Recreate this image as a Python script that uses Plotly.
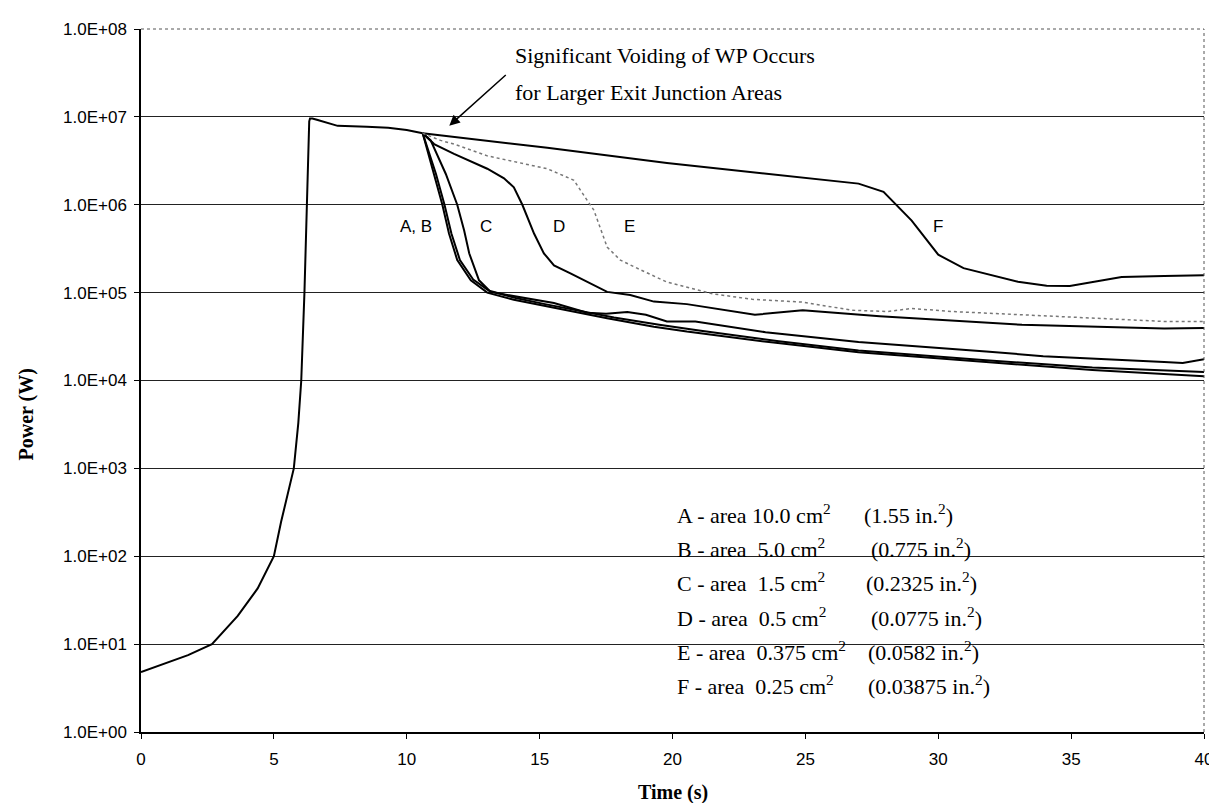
import plotly.graph_objects as go

# ---------------- data ----------------
t_common = [0, 0.9, 1.77, 2.67, 3.64, 4.39, 5.0, 5.27, 5.58, 5.75, 5.92, 6.03, 6.15, 6.24, 6.30, 6.33, 6.36,
            6.45, 6.65, 7.02, 7.4, 8.5, 9.3, 10.0, 10.6]
p_common = [4.8, 6.0, 7.5, 10, 21, 43, 100, 245, 590, 1000, 3300, 1.0e4, 1.0e5, 1.0e6, 6.3e6, 8.9e6, 9.6e6,
            9.6e6, 9.2e6, 8.6e6, 7.9e6, 7.7e6, 7.5e6, 7.1e6, 6.5e6]

t_A = [10.6, 11.03, 11.34, 11.59, 11.9, 12.41, 13.03, 14.03, 15.04, 16.29, 17.54, 19.3, 20.54, 23.8, 27.0, 31.8, 35.8, 40]
p_A = [6.5e6, 2.24e6, 1.0e6, 4.7e5, 2.35e5, 1.38e5, 1.0e5, 8.3e4, 7.2e4, 6.1e4, 5.1e4, 4.1e4, 3.6e4, 2.7e4, 2.1e4, 1.62e4, 1.32e4, 1.12e4]

t_B = [10.6, 11.1, 11.42, 11.68, 12.0, 12.5, 13.1, 14.1, 15.2, 16.5, 17.8, 19.5, 21.0, 24.0, 27.0, 31.8, 35.8, 40]
p_B = [6.5e6, 2.24e6, 1.0e6, 4.7e5, 2.35e5, 1.41e5, 1.05e5, 8.7e4, 7.4e4, 6.2e4, 5.2e4, 4.3e4, 3.7e4, 2.8e4, 2.2e4, 1.7e4, 1.41e4, 1.25e4]

t_C = [10.6, 10.9, 11.47, 11.9, 12.16, 12.35, 12.72, 13.16, 13.78, 14.79, 15.54, 16.79, 17.5, 18.3, 19.0, 19.79, 20.86,
       23.5, 27.0, 31.8, 33.95, 38.5, 39.2, 40]
p_C = [6.5e6, 5.4e6, 2.24e6, 1.0e6, 5.1e5, 2.8e5, 1.38e5, 1.02e5, 9.4e4, 8.3e4, 7.6e4, 5.9e4, 5.75e4, 6.0e4, 5.6e4, 4.7e4, 4.68e4,
       3.55e4, 2.75e4, 2.14e4, 1.89e4, 1.62e4, 1.58e4, 1.74e4]

t_D = [10.6, 11.03, 11.78, 13.03, 13.66, 14.03, 14.35, 14.79, 15.16, 15.54, 16.16, 16.79, 17.54, 18.41, 19.3, 20.54,
       23.1, 24.9, 27.8, 33.15, 38.5, 40]
p_D = [6.5e6, 4.9e6, 3.8e6, 2.57e6, 2.0e6, 1.58e6, 1.0e6, 4.7e5, 2.8e5, 2.04e5, 1.66e5, 1.33e5, 1.02e5, 9.4e4, 7.9e4, 7.4e4,
       5.6e4, 6.3e4, 5.4e4, 4.3e4, 3.9e4, 3.95e4]

t_E = [10.6, 11.27, 11.78, 13.03, 15.29, 16.29, 16.79, 17.04, 17.54, 18.04, 18.79, 19.79, 21.5, 23.0, 24.9, 26.75,
       28.1, 29.0, 30.5, 33.15, 35.8, 38.5, 40]
p_E = [6.5e6, 5.4e6, 4.9e6, 3.6e6, 2.57e6, 1.9e6, 1.12e6, 8.7e5, 3.3e5, 2.34e5, 1.82e5, 1.32e5, 9.7e4, 8.4e4, 7.8e4, 6.3e4,
       6.1e4, 6.6e4, 6.1e4, 5.6e4, 5.1e4, 4.7e4, 4.7e4]

t_F = [10.6, 15.29, 19.79, 25.0, 27.0, 27.94, 29.0, 30.0, 30.95, 33.0, 34.08, 34.95, 36.9, 38.5, 40]
p_F = [6.5e6, 4.45e6, 2.98e6, 2.02e6, 1.74e6, 1.40e6, 6.6e5, 2.7e5, 1.9e5, 1.33e5, 1.2e5, 1.19e5, 1.51e5, 1.55e5, 1.58e5]

y_tickvals = [1, 10, 100, 1e3, 1e4, 1e5, 1e6, 1e7, 1e8]
y_ticktext = ["1.0E+00", "1.0E+01", "1.0E+02", "1.0E+03", "1.0E+04", "1.0E+05", "1.0E+06", "1.0E+07", "1.0E+08"]
x_tickvals = [0, 5, 10, 15, 20, 25, 30, 35, 40]

curve_labels = ["A, B", "C", "D", "E", "F"]
curve_label_t = [10.33, 13.0, 15.74, 18.37, 30.0]

legend_left = ["A - area 10.0 cm<sup>2</sup>",
               "B - area\u00a0\u00a05.0 cm<sup>2</sup>",
               "C - area\u00a0\u00a01.5 cm<sup>2</sup>",
               "D - area\u00a0\u00a00.5 cm<sup>2</sup>",
               "E - area\u00a0\u00a00.375 cm<sup>2</sup>",
               "F - area\u00a0\u00a00.25 cm<sup>2</sup>"]
legend_right = ["(1.55 in.<sup>2</sup>)", "(0.775 in.<sup>2</sup>)", "(0.2325 in.<sup>2</sup>)",
                "(0.0775 in.<sup>2</sup>)", "(0.0582 in.<sup>2</sup>)", "(0.03875 in.<sup>2</sup>)"]

# ---------------- figure ----------------
W, H = 1217, 803
L, R, T, B = 133, 20, 18, 79
pw, ph = W - L - R, H - T - B

def px_x(px):
    return (px - L) / pw

def px_y(py):
    return 1 - (py - T) / ph

fig = go.Figure()
black = dict(color="black", width=2)
fig.add_trace(go.Scatter(x=t_common, y=p_common, mode="lines", line=black, showlegend=False))
for tt, pp in [(t_A, p_A), (t_B, p_B), (t_C, p_C), (t_D, p_D), (t_F, p_F)]:
    fig.add_trace(go.Scatter(x=tt, y=pp, mode="lines", line=black, showlegend=False))
fig.add_trace(go.Scatter(x=t_E, y=p_E, mode="lines", line=dict(color="#777777", width=1.5, dash="dot"),
                         showlegend=False))

tick_font = dict(family="Liberation Sans, Arial", size=17, color="black")
fig.update_layout(
    width=W, height=H,
    margin=dict(l=L, r=R, t=T, b=B),
    paper_bgcolor="white", plot_bgcolor="white",
    font=dict(family="Liberation Sans, Arial", size=16, color="black"),
    showlegend=False,
)
fig.update_xaxes(range=[0, 40], tickvals=x_tickvals, showgrid=False, zeroline=False,
                 showline=True, linecolor="black", linewidth=1.5,
                 ticks="outside", ticklen=5, tickcolor="black", tickwidth=1,
                 ticklabelstandoff=6, tickfont=tick_font)
fig.update_yaxes(type="log", range=[0, 8], tickvals=y_tickvals, ticktext=y_ticktext,
                 showgrid=True, gridcolor="#222222", gridwidth=1, zeroline=False,
                 showline=True, linecolor="black", linewidth=1.5,
                 ticks="outside", ticklen=5, tickcolor="black", tickwidth=1,
                 ticklabelstandoff=4, tickfont=tick_font)

# dotted top / right border
fig.add_shape(type="line", xref="paper", yref="paper", x0=0, x1=1, y0=1, y1=1,
              line=dict(color="white", width=2), layer="above")
fig.add_shape(type="line", xref="paper", yref="paper", x0=0, x1=1, y0=1, y1=1,
              line=dict(color="#555555", width=1, dash="dot"), layer="above")
fig.add_shape(type="line", xref="paper", yref="paper", x0=1, x1=1, y0=0, y1=1,
              line=dict(color="#555555", width=1, dash="dot"), layer="above")

# axis titles
title_font = dict(family="Liberation Serif, Times New Roman", size=20, color="black")
fig.add_annotation(text="<b>Power (W)</b>", xref="paper", yref="paper", x=px_x(18), y=px_y(405),
                   textangle=-90, showarrow=False, xanchor="center", yanchor="middle", font=title_font)
fig.add_annotation(text="<b>Time (s)</b>", xref="paper", yref="paper", x=px_x(666), y=px_y(785),
                   showarrow=False, xanchor="center", yanchor="middle", font=title_font)

# voiding annotation + arrow
serif = dict(family="Liberation Serif, Times New Roman", size=22, color="black")
fig.add_annotation(text="Significant Voiding of WP Occurs", xref="paper", yref="paper",
                   x=px_x(505), y=px_y(45), xanchor="left", yanchor="middle", showarrow=False, font=serif)
fig.add_annotation(text="for Larger Exit Junction Areas", xref="paper", yref="paper",
                   x=px_x(505), y=px_y(82), xanchor="left", yanchor="middle", showarrow=False, font=serif)
fig.add_annotation(x=11.6, y=6.90, xref="x", yref="y", text="", showarrow=True,
                   ax=58, ay=-52, arrowhead=2, arrowsize=1.4, arrowwidth=1.5, arrowcolor="black")

# curve labels
for lab, tl in zip(curve_labels, curve_label_t):
    fig.add_annotation(text=lab, x=tl, xref="x", yref="paper", y=px_y(216), showarrow=False,
                       xanchor="center", yanchor="middle",
                       font=dict(family="Liberation Sans, Arial", size=17, color="black"))

# legend text block
rows_y = [505, 539.4, 573.8, 608.2, 642.6, 677]
right_x = [855, 862, 857, 862, 859, 859]
for i in range(6):
    fig.add_annotation(text=legend_left[i], xref="paper", yref="paper", x=px_x(668), y=px_y(rows_y[i]),
                       xanchor="left", yanchor="middle", showarrow=False, font=serif)
    fig.add_annotation(text=legend_right[i], xref="paper", yref="paper", x=px_x(right_x[i]), y=px_y(rows_y[i]),
                       xanchor="left", yanchor="middle", showarrow=False, font=serif)

fig.write_html("out.html")
